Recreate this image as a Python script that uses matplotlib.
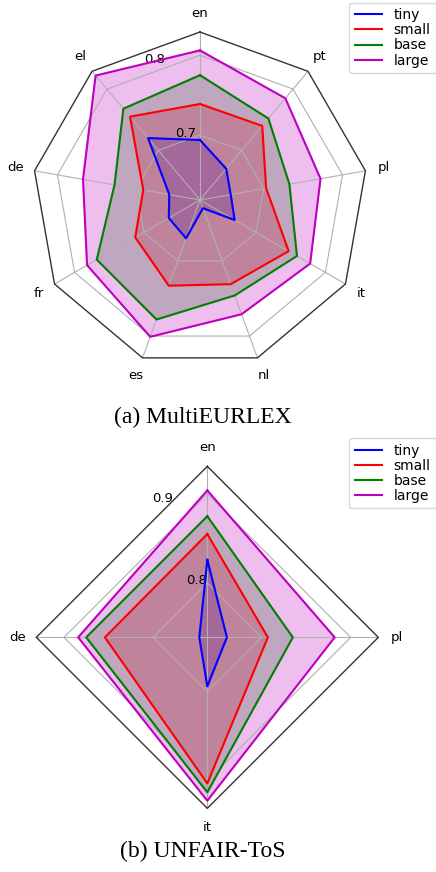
import matplotlib.pyplot as plt
import numpy as np

models = ['tiny', 'small', 'base', 'large']
colors = ['b', 'r', 'g', 'm']

# (a) MultiEURLEX, languages counter-clockwise from the top
langs_a = ['en', 'el', 'de', 'fr', 'es', 'nl', 'it', 'pl', 'pt']
tiny_a = [0.694, 0.720, 0.658, 0.664, 0.670, 0.630, 0.669, 0.658, 0.670]
small_a = [0.739, 0.755, 0.691, 0.7125, 0.733, 0.731, 0.747, 0.703, 0.740]
base_a = [0.775, 0.768, 0.7275, 0.768, 0.778, 0.746, 0.759, 0.7325, 0.752]
large_a = [0.806, 0.822, 0.7675, 0.782, 0.801, 0.771, 0.778, 0.772, 0.785]

# (b) UNFAIR-ToS
langs_b = ['en', 'de', 'it', 'pl']
tiny_b = [0.826, 0.748, 0.794, 0.761]
small_b = [0.855, 0.854, 0.903, 0.807]
base_b = [0.875, 0.875, 0.913, 0.835]
large_b = [0.904, 0.884, 0.9225, 0.882]


def radar(ax, langs, series, rlim, rticks):
    n = len(langs)
    theta = np.linspace(0, 2 * np.pi, n, endpoint=False)
    th = np.append(theta, theta[0])
    ax.set_theta_offset(np.pi / 2)
    ax.spines['polar'].set_visible(False)

    # polygon rings and outer frame instead of circles
    for r in rticks:
        ax.plot(th, [r] * (n + 1), color='#b0b0b0', lw=0.8)
    ax.plot(th, [rlim[1]] * (n + 1), color='#333333', lw=1.0, clip_on=False)

    for vals, name, c in zip(series, models, colors):
        v = np.append(vals, vals[0])
        ax.plot(th, v, color=c, lw=1.5, label=name)
        ax.fill(th, v, color=c, alpha=0.25)

    ax.set_ylim(*rlim)
    ax.set_xticks(theta)
    ax.set_xticklabels(langs, fontsize=9.5)
    ax.set_rgrids(rticks, labels=[str(t) for t in rticks], angle=22.5, fontsize=9.5)
    ax.yaxis.grid(False)
    ax.xaxis.grid(True, color='#b0b0b0', lw=0.8)
    ax.tick_params(axis='x', pad=3)


fig = plt.figure(figsize=(4.36, 8.72), dpi=100)

ax1 = fig.add_axes([0.0734, 0.578, 0.7706, 0.3853], projection='polar')
radar(ax1, langs_a, [tiny_a, small_a, base_a, large_a], (0.619, 0.829), [0.7, 0.8])
ax1.legend(loc='upper right', bbox_to_anchor=(1.0, 0.997), bbox_transform=fig.transFigure,
           borderaxespad=0, fontsize=10, labelspacing=0.08)
fig.text(0.4645, 0.5146, '(a) MultiEURLEX', ha='center', va='baseline',
         family='Liberation Serif', fontsize=17)

ax2 = fig.add_axes([0.0833, 0.073, 0.7844, 0.3922], projection='polar')
radar(ax2, langs_b, [tiny_b, small_b, base_b, large_b], (0.739, 0.931), [0.8, 0.9])
ax2.legend(loc='upper right', bbox_to_anchor=(1.0, 0.4977), bbox_transform=fig.transFigure,
           borderaxespad=0, fontsize=10, labelspacing=0.08)
fig.text(0.4645, 0.0176, '(b) UNFAIR-ToS', ha='center', va='baseline',
         family='Liberation Serif', fontsize=17)

fig.savefig('out.png', dpi=100)
